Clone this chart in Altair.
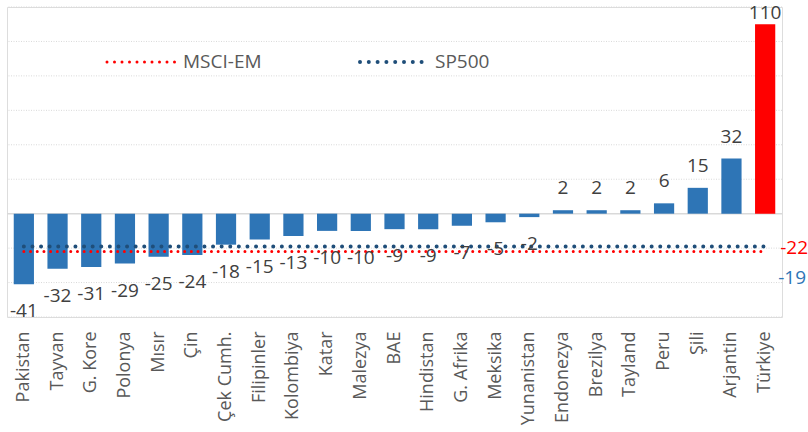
import altair as alt
import pandas as pd

countries = ["Pakistan", "Tayvan", "G. Kore", "Polonya", "Mısır", "Çin", "Çek Cumh.",
             "Filipinler", "Kolombiya", "Katar", "Malezya", "BAE", "Hindistan", "G. Afrika",
             "Meksika", "Yunanistan", "Endonezya", "Brezilya", "Tayland", "Peru", "Şili",
             "Arjantin", "Türkiye"]
values = [-41, -32, -31, -29, -25, -24, -18, -15, -13, -10, -10, -9, -9, -7, -5, -2,
          2, 2, 2, 6, 15, 32, 110]
msci_em = -22
sp500 = -19
grid_values = [-60, -40, -20, 20, 40, 60, 80, 100, 120]

highlight = "Türkiye"
FONT = "Open Sans"

df = pd.DataFrame({"country": countries, "value": values})
df["hl"] = df["country"] == highlight
df["label"] = df["value"].astype(str)
lines = pd.DataFrame({"country": countries, "msci": [msci_em] * len(countries),
                      "sp": [sp500] * len(countries)})

xenc = alt.X("country:N", sort=countries,
             scale=alt.Scale(paddingInner=0.4, paddingOuter=0.2),
             axis=alt.Axis(title=None, labelAngle=-90, labelFont=FONT, labelFontSize=18,
                           labelColor="#595959", ticks=False, domain=False,
                           labelPadding=14, labelLimit=200))
xs = alt.X("country:N", sort=countries)
yscale = alt.Scale(domain=[-60, 120], nice=False, zero=False)
yenc = alt.Y("value:Q", scale=yscale, axis=None)

base = alt.Chart(df)

grid = alt.Chart(pd.DataFrame({"g": grid_values})).mark_rule(
    color="#d9d9d9", strokeWidth=1, strokeDash=[1, 1.5]).encode(
    y=alt.Y("g:Q", scale=yscale, axis=None))

zero = alt.Chart(pd.DataFrame({"v": [0]})).mark_rule(color="#d9d9d9", strokeWidth=1.5).encode(
    y=alt.Y("v:Q", scale=yscale, axis=None))

bars = base.mark_bar().encode(
    x=xenc, y=yenc, y2=alt.datum(0),
    color=alt.condition("datum.hl", alt.value("#FF0000"), alt.value("#2E75B6")))

msci_line = alt.Chart(lines).mark_line(color="#FF0000", strokeWidth=3, strokeDash=[0, 6.7],
                                       strokeCap="round").encode(
    x=xs, y=alt.Y("msci:Q", scale=yscale))
sp_line = alt.Chart(lines).mark_line(color="#1F4E79", strokeWidth=4, strokeDash=[0, 8.6],
                                     strokeCap="round").encode(
    x=xs, y=alt.Y("sp:Q", scale=yscale))

lab_neg = base.transform_filter("datum.value < 0").mark_text(
    font=FONT, fontSize=19, color="#404040", baseline="middle", dy=27).encode(
    x=xs, y=alt.Y("value:Q", scale=yscale), text="label:N")
lab_pos = base.transform_filter("datum.value > 0 && datum.value < 100").mark_text(
    font=FONT, fontSize=19, color="#404040", baseline="middle", dy=-22).encode(
    x=xs, y=alt.Y("value:Q", scale=yscale), text="label:N")
lab_top = base.transform_filter("datum.value >= 100").mark_text(
    font=FONT, fontSize=19, color="#404040", baseline="middle", dy=-11).encode(
    x=xs, y=alt.Y("value:Q", scale=yscale), text="label:N")

bench = pd.DataFrame({"country": [highlight, highlight], "v": [msci_em, sp500],
                      "name": ["MSCI-EM", "SP500"]})
bench["label"] = bench["v"].astype(str)
bench_msci = alt.Chart(bench).transform_filter("datum.name == 'MSCI-EM'").mark_text(
    font=FONT, fontSize=19, color="#FF0000", baseline="middle", align="center", dx=29, dy=-4).encode(
    x=xs, y=alt.Y("v:Q", scale=yscale), text="label:N")
bench_sp = alt.Chart(bench).transform_filter("datum.name == 'SP500'").mark_text(
    font=FONT, fontSize=19, color="#2E75B6", baseline="middle", align="center", dx=27, dy=32).encode(
    x=xs, y=alt.Y("v:Q", scale=yscale), text="label:N")

leg_df = pd.DataFrame({"name": ["MSCI-EM"]})
leg_red = alt.Chart(leg_df).mark_rule(color="#FF0000", strokeWidth=3, strokeDash=[0, 7.5],
                                      strokeCap="round").encode(
    x=alt.value(100), x2=alt.value(169), y=alt.value(55))
leg_red_t = alt.Chart(leg_df).mark_text(font=FONT, fontSize=19, color="#595959", align="left",
                                        baseline="middle").encode(
    x=alt.value(176), y=alt.value(55), text="name:N")
leg_df2 = pd.DataFrame({"name": ["SP500"]})
leg_blue = alt.Chart(leg_df2).mark_rule(color="#1F4E79", strokeWidth=4, strokeDash=[0, 8.8],
                                        strokeCap="round").encode(
    x=alt.value(353), x2=alt.value(416), y=alt.value(55))
leg_blue_t = alt.Chart(leg_df2).mark_text(font=FONT, fontSize=19, color="#595959", align="left",
                                          baseline="middle").encode(
    x=alt.value(428), y=alt.value(55), text="name:N")

chart = alt.layer(
    grid, zero, bars, msci_line, sp_line, lab_neg, lab_pos, lab_top, bench_msci, bench_sp,
    leg_red, leg_red_t, leg_blue, leg_blue_t
).properties(
    width=775, height=310,
    autosize=alt.AutoSizeParams(type="none"),
    padding={"left": 7, "top": 7, "right": 26, "bottom": 115}
).configure_view(stroke=None).configure(background="white")

chart.save("out.html", embed_options={"renderer": "svg", "actions": False})
